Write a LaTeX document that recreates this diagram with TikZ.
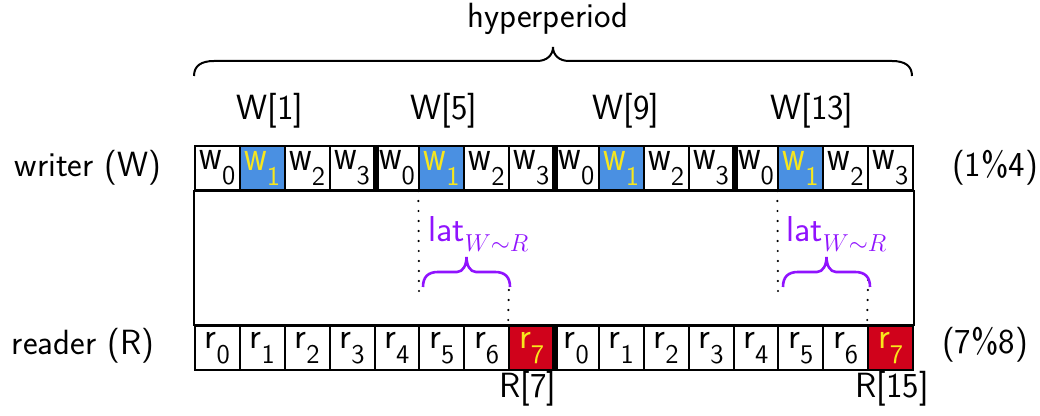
\RequirePackage{fix-cm}
\documentclass[tikz,border=0pt]{standalone}
\usepackage{fontspec}
\usepackage{graphicx}
\usetikzlibrary{calc}
\definecolor{cellblue}{HTML}{4A90E2}
\definecolor{cellred}{HTML}{D0021B}
\definecolor{celltext}{HTML}{F8E71C}
\definecolor{latpurple}{HTML}{9013FE}
\newcommand\wglyph{\scalebox{0.95}[1.2]{w}}
\newcommand\cellsub[1]{\raisebox{-7.5pt}{\fontsize{13.5}{14}\selectfont\sffamily #1}}
\begin{document}
\begin{tikzpicture}[x=0.5pt,y=-0.5pt,
  font=\fontsize{17.5}{20}\selectfont\sffamily,
  cell/.style={draw, line width=1pt, minimum width=22.4375pt, minimum height=22pt, inner sep=0pt, anchor=center, font=\fontsize{18.5}{20}\selectfont\sffamily},
  sep/.style={line width=3pt},
  dotline/.style={line width=1.2pt, dash pattern=on 0pt off 5pt, line cap=round},
  hbrace/.style={line width=1pt},
  latbrace/.style={draw=latpurple, line width=1.3pt},
  latlabel/.style={text=latpurple, inner sep=0pt, anchor=base west, font=\fontsize{18}{20}\selectfont\sffamily},
  lbl/.style={inner sep=0pt, anchor=base}]
\useasboundingbox (0,0) rectangle (1040,416);
% writer row
\foreach \i in {0,...,15} {
  \pgfmathtruncatemacro\k{mod(\i,4)}
  \ifnum\k=1 \def\fc{cellblue}\def\tc{celltext}\else\def\fc{white}\def\tc{black}\fi
  \node[cell, fill=\fc, text=\tc] (w\i) at ({195+(\i+0.5)*44.875},168) {\wglyph\cellsub{\k}};
}
% reader row
\foreach \i in {0,...,15} {
  \pgfmathtruncatemacro\k{mod(\i,8)}
  \ifnum\k=7 \def\fc{cellred}\def\tc{celltext}\else\def\fc{white}\def\tc{black}\fi
  \node[cell, fill=\fc, text=\tc] (r\i) at ({195+(\i+0.5)*44.875},348) {r\cellsub{\k}};
}
% middle box
\draw[line width=1pt] (w0.south west) rectangle (r15.north east);
% group separators
\foreach \j in {3,7,11} { \draw[sep] (w\j.north east) -- (w\j.south east); }
\draw[sep] (r7.north east) -- (r7.south east);
% dotted latency markers
\coordinate (d1) at (419,293);
\coordinate (d2) at (509,280);
\coordinate (d3) at (778,293);
\coordinate (d4) at (868,280);
\draw[dotline] (w5.south west) -- (d1);
\draw[dotline] (d2) -- (r7.north west);
\draw[dotline] (w13.south west) -- (d3);
\draw[dotline] (d4) -- (r15.north west);
% latency braces
\foreach \bx in {423,783} {
  \draw[latbrace] (\bx,287) .. controls (\bx,277) and (\bx+5,272) .. (\bx+15,272)
    -- (\bx+34,272) .. controls (\bx+40,272) and (\bx+43.5,265) .. (\bx+43.5,257)
    .. controls (\bx+43.5,265) and (\bx+47,272) .. (\bx+53,272)
    -- (\bx+72,272) .. controls (\bx+82,272) and (\bx+87,277) .. (\bx+87,287);
}
\node[latlabel] (lat1) at (428,242) {lat\raisebox{-5pt}{\fontsize{17.5}{20}\selectfont$\scriptstyle W\sim R$}};
\node[latlabel] (lat2) at (786,242) {lat\raisebox{-5pt}{\fontsize{17.5}{20}\selectfont$\scriptstyle W\sim R$}};
% hyperperiod brace
\draw[hbrace] (194,76) .. controls (194,66) and (201,61) .. (214,61)
  -- (537,61) .. controls (547,61) and (553,55) .. (553,47)
  .. controls (553,55) and (559,61) .. (569,61)
  -- (892,61) .. controls (905,61) and (912,66) .. (912,76);
\node[lbl] (hyp) at (548,28) {hyperperiod};
% labels
\node[lbl] (W1) at (270,120) {W[1]};
\node[lbl] (W5) at (444,120) {W[5]};
\node[lbl] (W9) at (626,120) {W[9]};
\node[lbl] (W13) at (812,120) {W[13]};
\node[lbl] (R7) at (528,398) {R[7]};
\node[lbl] (R15) at (892,398) {R[15]};
\node[lbl] (wl) at (88,177) {writer (W)};
\node[lbl] (rl) at (83,355) {reader (R)};
\node[lbl] (wm) at (995,177) {(1\%4)};
\node[lbl] (rm) at (985,354) {(7\%8)};
\end{tikzpicture}
\end{document}
